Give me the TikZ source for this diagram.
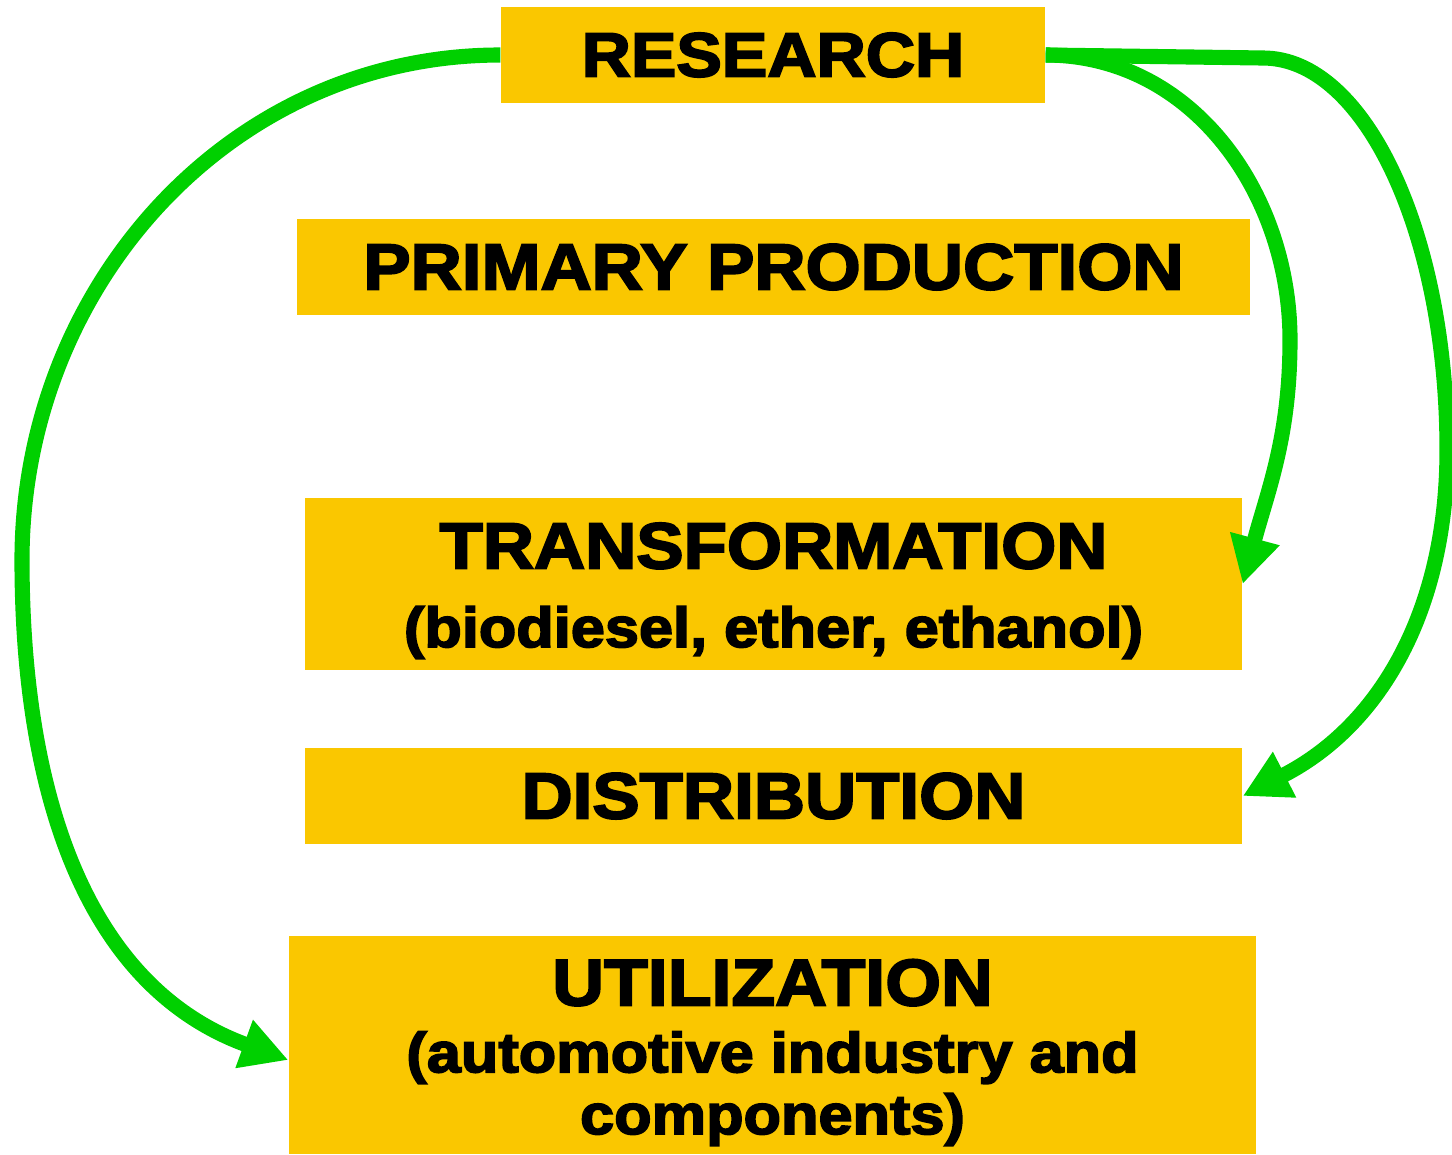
\documentclass[tikz,border=0pt]{standalone}
\usepackage{fontspec}
\setmainfont{Liberation Sans}[FakeStretch=1.09, BoldFeatures={FakeBold=3}]
\usetikzlibrary{arrows.meta}
\definecolor{stageyellow}{RGB}{250,199,0}
\definecolor{flowgreen}{RGB}{0,208,0}
\def\subline{\fontsize{16}{19}\selectfont}

\begin{document}
\begin{tikzpicture}[
    stage/.style={fill=stageyellow, inner sep=0pt, align=center,
                  font=\bfseries\fontsize{18.5}{22.4}\selectfont},
    flow/.style={draw=flowgreen, line width=4.3pt,
                 -{Triangle[length=4.7mm,width=4.8mm]}}]
    \useasboundingbox (0,0) rectangle (14.52,-11.54);
    \node[stage, minimum width=5.44cm, minimum height=0.96cm,
          font=\bfseries\fontsize{17.8}{20}\selectfont] (research) at (7.73,-0.55) {RESEARCH};
    \node[stage, minimum width=9.53cm, minimum height=0.96cm] (primary) at (7.735,-2.67) {PRIMARY PRODUCTION};
    \node[stage, minimum width=9.37cm, minimum height=1.72cm] (transf) at (7.735,-5.84)
        {\rule{0pt}{5.9mm}TRANSFORMATION\\{\subline (biodiesel, ether, ethanol)}};
    \node[stage, minimum width=9.37cm, minimum height=0.96cm] (distrib) at (7.735,-7.96) {DISTRIBUTION};
    \node[stage, minimum width=9.67cm, minimum height=2.18cm,
          font=\bfseries\fontsize{18.7}{17.6}\selectfont] (util) at (7.725,-10.45)
        {\rule{0pt}{6.1mm}UTILIZATION\\[0.5mm]{\subline (automotive industry and}\\{\subline components)}};
    \coordinate (leftbend) at (0.22,-5.6);
    \coordinate (midbend) at (12.9,-3.4);
    \coordinate (elbow) at (12.63,-0.58);
    \coordinate (farbend) at (14.47,-4.5);
    \draw[flow] (research.west) to[out=180,in=90] (leftbend) to[out=-90,in=160] ([yshift=-1.5mm]util.west);
    \draw[flow] (research.east) to[out=0,in=90] (midbend) to[out=-90,in=75] (transf.east);
    \draw[flow] (research.east) -- (elbow) .. controls +(1.02,0) and +(0,2.16) .. (farbend)
        to[out=-90,in=27] (distrib.east);
\end{tikzpicture}
\end{document}
